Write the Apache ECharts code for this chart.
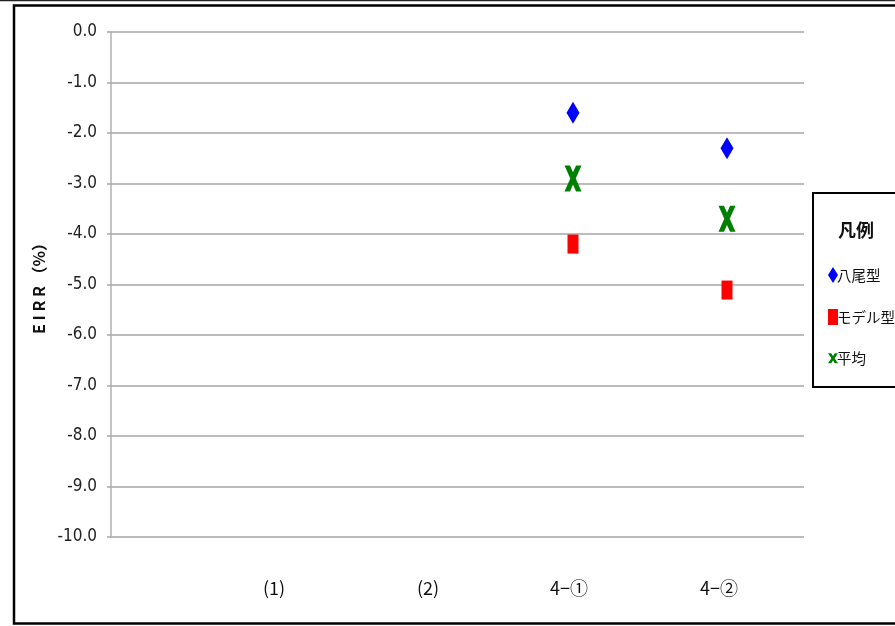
<!DOCTYPE html>
<html>
<head>
<meta charset="utf-8">
<script src="https://cdn.jsdelivr.net/npm/echarts@6/dist/echarts.min.js"></script>
<style>html,body{margin:0;padding:0;background:#fff;}#c{width:895px;height:626px;}</style>
</head>
<body>
<div id="c"></div>
<script>
// ---- data ----
const categories = ['(1)', '(2)', '4−①', '4−②'];
const yaoValues   = [null, null, -1.60, -2.30];   // 八尾型
const modelValues = [null, null, -4.20, -5.11];   // モデル型
const avgValues   = [null, null, -2.90, -3.70];   // 平均
const seriesNames = ['八尾型', 'モデル型', '平均'];

function toPoints(arr) {
  const out = [];
  arr.forEach((v, i) => { if (v !== null) out.push([i + 1, v]); });
  return out;
}

const xPath = 'path://M0,0 L32,0 L50,26.5 L68,0 L100,0 L66,50 L100,100 L68,100 L50,73.5 L32,100 L0,100 L34,50 Z';
const narrow = "'Liberation Sans Narrow', 'DejaVu Sans Condensed', 'Noto Sans', sans-serif";
const jp = "'Noto Sans CJK JP', sans-serif";

const chart = echarts.init(document.getElementById('c'));
chart.setOption({
  animation: false,
  backgroundColor: '#fff',
  grid: { left: 111, right: 91, top: 32, bottom: 89, containLabel: false },
  xAxis: {
    type: 'value', min: 0, max: 4.5, interval: 1,
    axisLine: { show: false }, axisTick: { show: false }, splitLine: { show: false },
    axisLabel: {
      margin: 42,
      color: '#111',
      fontFamily: jp,
      fontSize: 18,
      formatter: function (v) {
        const i = Math.round(v) - 1;
        if (i < 0 || i >= categories.length || Math.abs(v - Math.round(v)) > 1e-6) return '';
        const styles = ['r', 'r', 'l1', 'l2'];
        return '{' + styles[i] + '|' + categories[i] + '}';
      },
      rich: {
        r:  { padding: [0, 0, 0, 18], fontFamily: jp, fontSize: 18, color: '#111' },
        l1: { padding: [0, 8, 0, 0], fontFamily: jp, fontSize: 18, color: '#111' },
        l2: { padding: [0, 16, 0, 0], fontFamily: jp, fontSize: 18, color: '#111' }
      }
    }
  },
  yAxis: {
    type: 'value', min: -10, max: 0, interval: 1,
    name: 'E I R R （%）',
    nameLocation: 'middle', nameRotate: 90, nameGap: 64,
    nameTextStyle: { fontFamily: jp, fontSize: 16, fontWeight: 'bold', color: '#111' },
    axisLine: { show: true, lineStyle: { color: '#b0b0b0', width: 1.5 } },
    axisTick: { show: true, inside: false, length: 4, lineStyle: { color: '#a6a6a6', width: 1.5 } },
    splitLine: { show: true, lineStyle: { color: '#a6a6a6', width: 1.5 } },
    axisLabel: {
      margin: 14, color: '#222', fontFamily: narrow, fontSize: 17,
      formatter: function (v) { return v.toFixed(1); }
    }
  },
  legend: {
    orient: 'vertical', left: 823, top: 262,
    itemGap: 26, itemWidth: 10, itemHeight: 16,
    data: seriesNames,
    textStyle: { fontFamily: jp, fontSize: 14.5, color: '#111', padding: [0, 0, 0, -6] },
    z: 10
  },
  graphic: [
    { type: 'line', shape: { x1: 0, y1: 0.5, x2: 895, y2: 0.5 }, style: { stroke: '#222', lineWidth: 1.5 }, z: 0 },
    { type: 'rect', shape: { x: 14, y: 5.5, width: 900, height: 618 }, style: { fill: 'none', stroke: '#000', lineWidth: 2.5 }, z: 0 },
    { type: 'rect', shape: { x: 813, y: 193, width: 100, height: 194 }, style: { fill: '#fff', stroke: '#000', lineWidth: 2 }, z: 1 },
    { type: 'text', x: 856, y: 230, style: { text: '凡例', fontFamily: jp, fontSize: 18, fontWeight: 'bold', fill: '#111', align: 'center', verticalAlign: 'middle' }, z: 2 }
  ],
  series: [
    {
      name: seriesNames[0], type: 'scatter', data: toPoints(yaoValues),
      symbol: 'diamond', symbolSize: [13, 22],
      itemStyle: { color: '#0000ff', opacity: 1 }
    },
    {
      name: seriesNames[1], type: 'scatter', data: toPoints(modelValues),
      symbol: 'rect', symbolSize: [11, 19],
      itemStyle: { color: '#ff0000', opacity: 1 }
    },
    {
      name: seriesNames[2], type: 'scatter', data: toPoints(avgValues),
      symbol: xPath, symbolSize: [17, 26],
      itemStyle: { color: '#008000', opacity: 1 }
    }
  ]
});
</script>
</body>
</html>
